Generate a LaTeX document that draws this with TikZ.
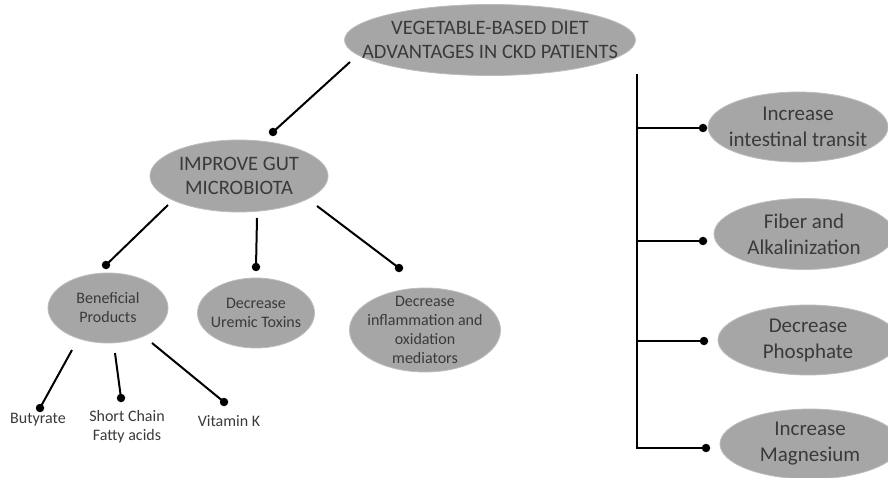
\documentclass[tikz,border=0pt]{standalone}
\usepackage{fontspec}
\setmainfont{Carlito}
\usetikzlibrary{shapes.geometric}
\definecolor{bubgray}{HTML}{A6A6A6}
\definecolor{bubedge}{HTML}{BDBDBD}
\definecolor{txtgray}{HTML}{3A3A3A}
\begin{document}
\begin{tikzpicture}[x=1pt,y=-1pt,
  bub/.style={ellipse, fill=bubgray, draw=bubedge, line width=0.8pt, inner sep=0pt},
  bigtxt/.style={align=center, text=txtgray, inner sep=0pt, font=\fontsize{20.5}{24.5}\selectfont},
  righttxt/.style={align=center, text=txtgray, inner sep=0pt, font=\fontsize{21}{26}\selectfont},
  smalltxt/.style={align=center, text=txtgray, inner sep=0pt, font=\fontsize{16}{19}\selectfont},
  lbl/.style={inner sep=0pt, align=center, text=txtgray, font=\fontsize{16}{19}\selectfont},
  dotnode/.style={circle, fill=black, inner sep=0pt, minimum size=8.5pt},
  conn/.style={line width=2pt, black}
]
\path[use as bounding box] (0,0) rectangle (888,478);
\clip (0,0) rectangle (888,478);
\fill[white] (0,0) rectangle (888,478);

% main nodes
\node[bub, minimum width=291pt, minimum height=71pt,
  label={[bigtxt]center:{VEGETABLE-BASED DIET\\ADVANTAGES IN CKD PATIENTS}}] (top) at (490,40) {};
\node[bub, minimum width=178pt, minimum height=72pt,
  label={[bigtxt]center:{IMPROVE GUT\\MICROBIOTA}}] (gut) at (239,176) {};
\node[bub, minimum width=120pt, minimum height=70pt,
  label={[smalltxt]center:{Beneficial\\Products}}] (ben) at (108,308) {};
\node[bub, minimum width=117pt, minimum height=70pt,
  label={[smalltxt]center:{Decrease\\Uremic Toxins}}] (ure) at (256,313) {};
\node[bub, minimum width=151pt, minimum height=84pt,
  label={[smalltxt]center:{Decrease\\inflammation and\\oxidation\\mediators}}] (inf) at (425,330) {};

\node[bub, minimum width=180pt, minimum height=70pt,
  label={[righttxt]center:{Increase\\intestinal transit}}] (r1) at (798,127) {};
\node[bub, minimum width=180pt, minimum height=71pt,
  label={[righttxt]center:{Fiber and\\Alkalinization}}] (r2) at (804,234) {};
\node[bub, minimum width=180pt, minimum height=70pt,
  label={[righttxt]center:{Decrease\\Phosphate}}] (r3) at (808,340) {};
\node[bub, minimum width=180pt, minimum height=70pt,
  label={[righttxt]center:{Increase\\Magnesium}}] (r4) at (810,444) {};

% leaf labels
\node[lbl] (but) at (38,420) {Butyrate};
\node[lbl] (scf) at (127,427) {Short Chain\\Fatty acids};
\node[lbl] (vit) at (229,421) {Vitamin K};

% connector start points
\coordinate (s1) at (350,62);
\coordinate (s2) at (168,205);
\coordinate (s3) at (257,218);
\coordinate (s4) at (317,206);
\coordinate (s5) at (72,350);
\coordinate (s6) at (115,353);
\coordinate (s7) at (152,343);

% dots
\node[dotnode] (d1) at (273,132) {};
\node[dotnode] (d2) at (106,265) {};
\node[dotnode] (d3) at (256,267) {};
\node[dotnode] (d4) at (399,268) {};
\node[dotnode] (d5) at (40,408) {};
\node[dotnode] (d6) at (121,398) {};
\node[dotnode] (d7) at (224,402) {};

\draw[conn] (s1) -- (d1.center);
\draw[conn] (s2) -- (d2.center);
\draw[conn] (s3) -- (d3.center);
\draw[conn] (s4) -- (d4.center);
\draw[conn] (s5) -- (d5.center);
\draw[conn] (s6) -- (d6.center);
\draw[conn] (s7) -- (d7.center);

% right bracket
\coordinate (vtop) at (637,74);
\coordinate (b1) at (637,128);
\coordinate (b2) at (637,241);
\coordinate (b3) at (637,341);
\coordinate (b4) at (637,448);
\node[dotnode] (e1) at (703,128) {};
\node[dotnode] (e2) at (703,241) {};
\node[dotnode] (e3) at (704,341) {};
\node[dotnode] (e4) at (706,448) {};
\draw[conn] (vtop) -- (b4) -- (e4.center);
\draw[conn] (b1) -- (e1.center);
\draw[conn] (b2) -- (e2.center);
\draw[conn] (b3) -- (e3.center);
\end{tikzpicture}
\end{document}
